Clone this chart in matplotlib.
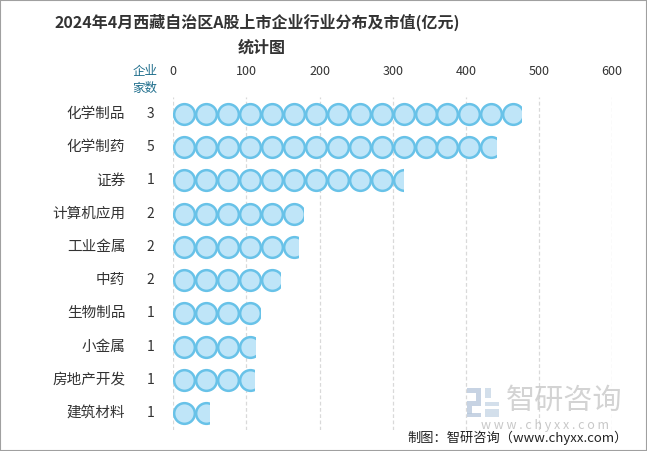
import matplotlib
matplotlib.use("Agg")
import matplotlib.pyplot as plt
from matplotlib.patches import Rectangle
import numpy as np

plt.rcParams['font.family'] = ['Noto Sans CJK SC', 'DejaVu Sans']

categories = ['化学制品', '化学制药', '证券', '计算机应用', '工业金属', '中药', '生物制品', '小金属', '房地产开发', '建筑材料']
counts = [3, 5, 1, 2, 2, 2, 1, 1, 1, 1]
values = [475, 442, 314, 178, 170, 146, 118, 112, 110, 49]
xticks = [0, 100, 200, 300, 400, 500, 600]
unit = 30  # value represented by one circle

W, H = 647, 451
fig = plt.figure(figsize=(W / 100, H / 100), dpi=100)
fig.patch.set_facecolor('white')

left, right = 173.3 / W, 612 / W
top, bottom = 1 - 97.4 / H, 1 - 429.6 / H
ax = fig.add_axes([left, bottom, right - left, top - bottom])
ax.set_xlim(0, 600)
ax.set_ylim(len(categories) - 0.5, -0.5)

for x in xticks:
    ax.axvline(x, color='#d9d9d9', lw=0.9, ls=(0, (3, 2)), zorder=0)

for i, (cat, v) in enumerate(zip(categories, values)):
    n = int(np.ceil(v / unit))
    cx = unit / 2 + unit * np.arange(n)
    sc = ax.scatter(cx, np.full(n, i), s=222, marker='o', facecolor='#bfe5f8',
                    edgecolor='#68c2e8', linewidth=1.8, zorder=3)
    clip = Rectangle((0, i - 0.5), v, 1, transform=ax.transData)
    sc.set_clip_path(clip)

ax.set_xticks(xticks)
ax.xaxis.tick_top()
ax.tick_params(axis='x', length=0, pad=14, labelsize=9, labelcolor='#333333')
ax.set_yticks([])
for s in ax.spines.values():
    s.set_visible(False)

# category labels and counts
for i, (cat, c) in enumerate(zip(categories, counts)):
    ax.text(-48 / 0.7317, i, cat, ha='right', va='center', fontsize=10.5, color='#333333')
    ax.text(-23 / 0.7317, i, str(c), ha='center', va='center', fontsize=10, color='#333333')

fig.text(145 / W, 1 - 72 / H, '企业', ha='center', va='center', fontsize=9, color='#1f6e8c')
fig.text(145 / W, 1 - 88 / H, '家数', ha='center', va='center', fontsize=9, color='#1f6e8c')

fig.text(257 / W, 1 - 22 / H, '2024年4月西藏自治区A股上市企业行业分布及市值(亿元)',
         ha='center', va='center', fontsize=11.5, fontweight='bold', color='#333333')
fig.text(262 / W, 1 - 48 / H, '统计图', ha='center', va='center', fontsize=11.5,
         fontweight='bold', color='#333333')

# watermark logo (simple blocks) and text
for (x0, y0, w, h, col) in [(467, 388, 14, 5, '#b9c9dc'), (476, 393, 5, 8, '#b9c9dc'),
                            (467, 401, 14, 5, '#b9c9dc'), (467, 406, 5, 8, '#b9c9dc'),
                            (467, 413, 14, 4, '#b9c9dc'), (485, 388, 6, 10, '#c9d7e6'),
                            (485, 402, 14, 4, '#c9d7e6'), (485, 409, 14, 8, '#c9d7e6')]:
    fig.add_artist(Rectangle((x0 / W, 1 - (y0 + h) / H), w / W, h / H,
                             transform=fig.transFigure, facecolor=col, edgecolor='none',
                             alpha=0.8))
fig.text(564 / W, 1 - 401 / H, '智研咨询', ha='center', va='center', fontsize=21,
         color='#c8c8c8', alpha=0.8)
fig.text(545 / W, 1 - 425 / H, 'w w w . c h y x x . c o m', ha='center', va='center',
         fontsize=9, color='#c8c8c8')

fig.text(628 / W, 1 - 438 / H, '制图：智研咨询（www.chyxx.com）', ha='right', va='center',
         fontsize=9.5, color='#222222')

fig.add_artist(Rectangle((0, 0), 1, 1, transform=fig.transFigure, fill=False,
                         edgecolor='#a0a0a0', lw=1.5))

fig.savefig('out.png', dpi=100)
